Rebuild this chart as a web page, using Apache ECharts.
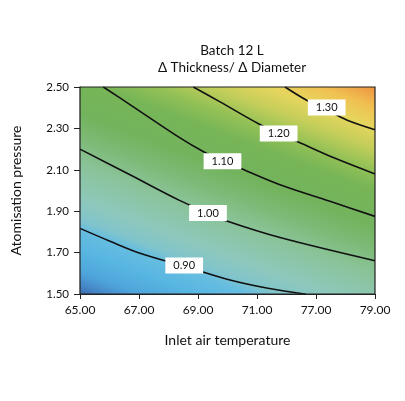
<!DOCTYPE html>
<html>
<head>
<meta charset="utf-8">
<script src="https://cdn.jsdelivr.net/npm/echarts@6/dist/echarts.min.js"></script>
<style>
  html, body { margin: 0; padding: 0; background: #fff; }
  #main { width: 405px; height: 401px; }
</style>
</head>
<body>
<div id="main"></div>
<script>
// x ticks are evenly spaced, labels as printed (index positions 0..5)
var xTickLabels = ['65.00', '67.00', '69.00', '71.00', '77.00', '79.00'];
var yTicks = [1.5, 1.7, 1.9, 2.1, 2.3, 2.5];

// contour lines, [x index, pressure]
var ceiling = [[0, 2.5], [5, 2.5]];
var contour130 = [[3.475, 2.5], [3.842, 2.436], [4.181, 2.39], [4.52, 2.341], [5, 2.294]];
var contour120 = [[1.921, 2.5], [2.373, 2.428], [3.034, 2.321], [3.364, 2.275], [3.7, 2.234], [4.293, 2.159], [5, 2.08]];
var contour110 = [[0.395, 2.5], [0.847, 2.415], [1.695, 2.254], [2.102, 2.186], [2.415, 2.143], [2.729, 2.106], [3.39, 2.028], [4.237, 1.948], [5, 1.875]];
var contour100 = [[0, 2.2], [0.847, 2.076], [1.695, 1.951], [2.169, 1.891], [2.475, 1.854], [3.39, 1.773], [5, 1.661]];
var contour090 = [[0, 1.817], [0.508, 1.755], [1.017, 1.697], [1.78, 1.633], [2.542, 1.568], [3.186, 1.528], [3.83, 1.499]];

var contourLabels = [
  [4.181, 2.401, '1.30'],
  [3.367, 2.275, '1.20'],
  [2.415, 2.141, '1.10'],
  [2.169, 1.891, '1.00'],
  [1.766, 1.638, '0.90']
];

var font = 'Lato, "Noto Sans", sans-serif';

// colour field: one gradient running across the contours (towards upper right)
var nx = 112 / 315.5, ny = -295 / 315.5;
var sMin = -248, sMax = 55;
var fieldStops = [
  [-248, '#3d66af'], [-238, '#4586c6'], [-226, '#4ea4da'], [-205, '#58b6e2'],
  [-186, '#66bde0'], [-177, '#80c4cc'], [-158, '#8ec8bc'], [-124, '#8ac398'],
  [-102, '#7eba78'], [-78, '#73b35d'], [-46, '#77b557'], [-26, '#94c156'],
  [-6, '#c4ce5a'], [14, '#e6d55d'], [32, '#f0c152'], [55, '#ee8b3d']
];
var field = new echarts.graphic.LinearGradient(
  sMin * nx, sMin * ny, sMax * nx, sMax * ny,
  fieldStops.map(function (s) {
    return { offset: (s[0] - sMin) / (sMax - sMin), color: s[1] };
  }),
  true
);

var contours = [contour130, contour120, contour110, contour100, contour090];

var series = [{
  type: 'line',
  data: ceiling,
  showSymbol: false,
  silent: true,
  z: 1,
  lineStyle: { width: 0 },
  areaStyle: { color: field, opacity: 1, origin: 'start' }
}];

contours.forEach(function (c) {
  series.push({
    type: 'line',
    data: c,
    smooth: 0.35,
    showSymbol: false,
    silent: true,
    z: 3,
    lineStyle: { color: '#111', width: 1.6 }
  });
});

series.push({
  type: 'scatter',
  data: contourLabels,
  symbol: 'rect',
  symbolSize: 1,
  itemStyle: { color: '#fff', opacity: 1 },
  z: 20,
  label: {
    show: true,
    position: 'inside',
    formatter: function (p) { return p.value[2]; },
    backgroundColor: '#fff',
    padding: [3, 8, 2, 8],
    fontFamily: font,
    fontSize: 11,
    color: '#111'
  }
});

var chart = echarts.init(document.getElementById('main'));
chart.setOption({
  animation: false,
  backgroundColor: '#fff',
  title: {
    text: 'Batch 12 L\nΔ Thickness/ Δ Diameter',
    left: 227,
    top: 37,
    textAlign: 'center',
    textStyle: { fontFamily: font, fontSize: 13.5, fontWeight: 'normal', color: '#111', lineHeight: 17 }
  },
  grid: {
    left: 80, right: 30, top: 87, bottom: 107,
    show: true, borderColor: '#222', borderWidth: 1.2, backgroundColor: 'transparent', z: 10
  },
  xAxis: {
    type: 'value',
    min: 0, max: 5, interval: 1,
    name: 'Inlet air temperature',
    nameLocation: 'middle',
    nameGap: 39,
    nameTextStyle: { fontFamily: font, fontSize: 14, color: '#111' },
    axisLine: { show: true, lineStyle: { color: '#222', width: 1.2 } },
    axisTick: { show: true, length: 5, lineStyle: { color: '#222' } },
    splitLine: { show: false },
    axisLabel: {
      fontFamily: font, fontSize: 12, color: '#111', margin: 10,
      formatter: function (v) { return xTickLabels[Math.round(v)]; }
    }
  },
  yAxis: {
    type: 'value',
    min: yTicks[0], max: yTicks[yTicks.length - 1], interval: 0.2,
    name: 'Atomisation pressure',
    nameLocation: 'middle',
    nameGap: 57,
    nameRotate: 90,
    nameTextStyle: { fontFamily: font, fontSize: 14, color: '#111' },
    axisLine: { show: true, lineStyle: { color: '#222', width: 1.2 } },
    axisTick: { show: true, length: 6, lineStyle: { color: '#222' } },
    splitLine: { show: false },
    axisLabel: {
      fontFamily: font, fontSize: 11.5, color: '#111', margin: 11,
      formatter: function (v) { return v.toFixed(2); }
    }
  },
  series: series
});
</script>
</body>
</html>
